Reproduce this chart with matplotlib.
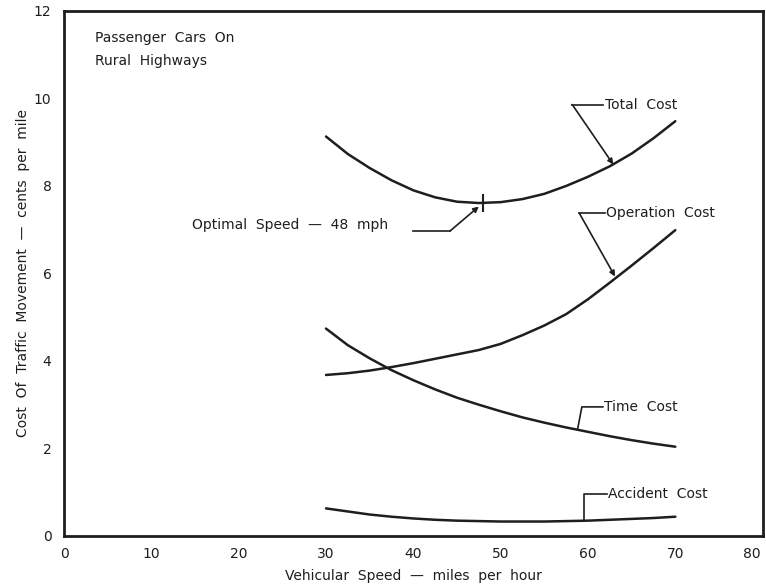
import matplotlib
matplotlib.use("Agg")
import matplotlib.pyplot as plt
from matplotlib.transforms import ScaledTranslation

# Speeds (mph) and cost components (cents per mile)
speed = [30, 32.5, 35, 37.5, 40, 42.5, 45, 47.5, 50, 52.5, 55, 57.5,
         60, 62.5, 65, 67.5, 70]
operation_cost = [3.67, 3.71, 3.77, 3.85, 3.94, 4.04, 4.14, 4.24, 4.38,
                  4.58, 4.80, 5.06, 5.40, 5.78, 6.17, 6.57, 6.98]
time_cost = [4.73, 4.35, 4.05, 3.78, 3.55, 3.34, 3.15, 2.99, 2.84,
             2.70, 2.58, 2.47, 2.37, 2.27, 2.18, 2.10, 2.03]
accident_cost = [0.62, 0.55, 0.48, 0.43, 0.39, 0.36, 0.34, 0.33, 0.32,
                 0.32, 0.32, 0.33, 0.34, 0.36, 0.38, 0.40, 0.43]
total_cost = [9.12, 8.72, 8.40, 8.12, 7.89, 7.73, 7.63, 7.60, 7.62,
              7.69, 7.81, 7.99, 8.20, 8.44, 8.73, 9.08, 9.47]

optimal_speed = 48
optimal_cost = 7.60

x_ticks = [0, 10, 20, 30, 40, 50, 60, 70, 80]
y_ticks = [0, 2, 4, 6, 8, 10, 12]

ink = "#1e1e1e"
plt.rcParams["font.family"] = ["DejaVu Sans"]

fig = plt.figure(figsize=(7.66, 5.84), dpi=100)
ax = fig.add_axes([0.0836, 0.083, 0.912, 0.899])
ax.set_xlim(0, 80)
ax.set_ylim(0, 12)

line_kw = dict(color=ink, lw=1.8, solid_capstyle="round", solid_joinstyle="round")
ax.plot(speed, total_cost, **line_kw)
ax.plot(speed, operation_cost, **line_kw)
ax.plot(speed, time_cost, **line_kw)
ax.plot(speed, accident_cost, **line_kw)

# marker at the optimum
ax.plot([optimal_speed, optimal_speed], [optimal_cost - 0.18, optimal_cost + 0.18],
        color=ink, lw=1.5)

# frame
for s in ax.spines.values():
    s.set_color(ink)
    s.set_linewidth(2.0)

ax.set_xticks(x_ticks)
ax.set_yticks(y_ticks)
ax.tick_params(axis="both", direction="in", colors=ink, labelsize=10,
               width=1.8, length=10)
ax.tick_params(axis="x", pad=8)
ax.tick_params(axis="y", pad=9, length=12)
# no tick marks at the axis ends
for t in ax.xaxis.get_major_ticks():
    if t.get_loc() in (0, 80):
        t.tick1line.set_visible(False)
for t in ax.yaxis.get_major_ticks():
    if t.get_loc() in (0, 12):
        t.tick1line.set_visible(False)
# keep the last x label inside the figure
last = ax.get_xticklabels()[-1]
last.set_transform(last.get_transform() +
                   ScaledTranslation(-8 / 72, 0, fig.dpi_scale_trans))

ax.set_xlabel("Vehicular  Speed  —  miles  per  hour", fontsize=10, color=ink,
              labelpad=6)
ax.set_ylabel("Cost  Of  Traffic  Movement  —  cents  per  mile", fontsize=10,
              color=ink, labelpad=3)

ax.text(3.5, 11.1, "Passenger  Cars  On\nRural  Highways", fontsize=10,
        color=ink, va="center", linespacing=1.8)

lead = dict(color=ink, lw=1.2)
arrow = dict(arrowstyle="-|>", color=ink, lw=1.2, mutation_scale=8,
             shrinkA=0, shrinkB=0)

# Total Cost label
ax.plot([58.2, 61.7], [9.85, 9.85], **lead)
ax.annotate("", xy=(62.9, 8.48), xytext=(58.2, 9.85), arrowprops=arrow)
ax.text(61.9, 9.85, "Total  Cost", fontsize=10, color=ink, va="center")

# Operation Cost label
ax.plot([59.0, 61.9], [7.37, 7.37], **lead)
ax.annotate("", xy=(63.1, 5.92), xytext=(59.0, 7.37), arrowprops=arrow)
ax.text(62.1, 7.37, "Operation  Cost", fontsize=10, color=ink, va="center")

# Time Cost label
ax.plot([61.7, 59.3, 58.8], [2.94, 2.94, 2.42], **lead)
ax.text(61.8, 2.94, "Time  Cost", fontsize=10, color=ink, va="center")

# Accident Cost label
ax.plot([62.2, 59.6, 59.6], [0.95, 0.95, 0.34], **lead)
ax.text(62.3, 0.95, "Accident  Cost", fontsize=10, color=ink, va="center")

# Optimal speed label
ax.plot([40.0, 44.2], [6.96, 6.96], **lead)
ax.annotate("", xy=(47.5, 7.52), xytext=(44.2, 6.96), arrowprops=arrow)
ax.text(14.6, 7.1, "Optimal  Speed  —  48  mph", fontsize=10, color=ink,
        va="center")

fig.savefig("out.png", dpi=100)
